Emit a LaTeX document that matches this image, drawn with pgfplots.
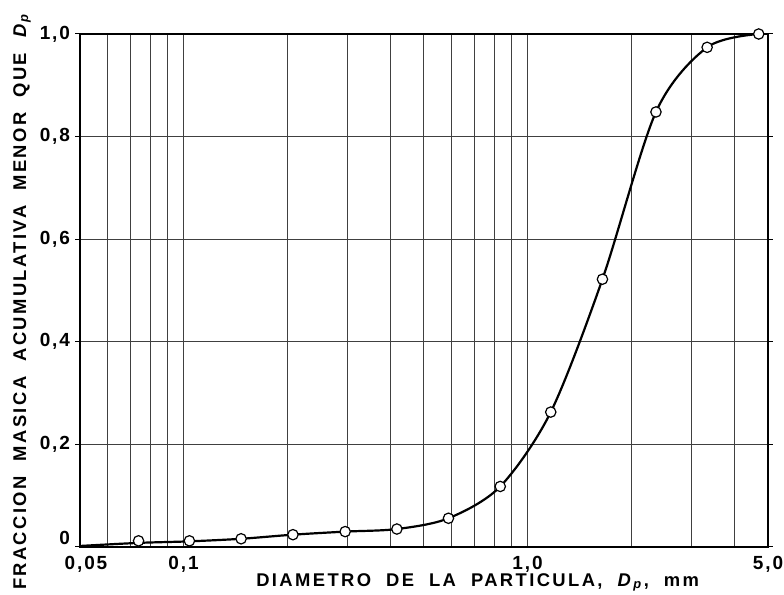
\documentclass[border=0pt]{standalone}
\usepackage{pgfplots}
\usepackage{pgfplotstable}
\pgfplotsset{compat=1.18}
\usepackage{fontspec}
\setmainfont{Liberation Sans}
\newfontfamily\ylblfont[LetterSpace=13,WordSpace=2]{Liberation Sans}
\newfontfamily\xlblfont[LetterSpace=13,WordSpace=2]{Liberation Sans}
\newfontfamily\tickfont[LetterSpace=10]{Liberation Sans}

\pgfplotstableread{
x y
0.074 0.012
0.104 0.012
0.147 0.016
0.208 0.024
0.295 0.030
0.417 0.035
0.589 0.056
0.833 0.118
1.168 0.263
1.651 0.522
2.362 0.848
3.327 0.974
4.699 1.000
}\sieve

\pgfplotstableread{
x y
0.050 0.002
0.074 0.008
0.104 0.011
0.147 0.016
0.208 0.024
0.295 0.030
0.417 0.035
0.589 0.056
0.833 0.118
1.168 0.263
1.651 0.522
2.362 0.848
3.327 0.974
4.699 1.000
}\curve

\begin{document}
\begin{tikzpicture}
\begin{axis}[
  scale only axis, width=344pt, height=256.5pt,
  xmode=log, xmin=0.05, xmax=5, ymin=0, ymax=1,
  xtick={0.05,0.1,1,5},
  xticklabels={{\hspace*{6pt}0,05},{0,1},{1,0},{5,0}},
  minor xtick={0.06,0.07,0.08,0.09,0.2,0.3,0.4,0.5,0.6,0.7,0.8,0.9,2,3,4},
  ytick={0,0.2,0.4,0.6,0.8,1},
  yticklabels={{\raisebox{9pt}{0}},{0,2},{0,4},{0,6},{0,8},{1,0}},
  grid=both,
  major grid style={black!75, line width=0.5pt},
  minor grid style={black!75, line width=0.5pt},
  axis line style={black, line width=0.7pt},
  tick align=outside, major tick length=2.5pt, minor tick length=0pt,
  xtick style={draw=none},
  ytick style={black, line width=0.5pt},
  ticklabel style={font=\tickfont\bfseries\fontsize{9.5}{11}\selectfont},
  xticklabel style={yshift=1.5pt},
  yticklabel style={xshift=1pt},
  xlabel={DIAMETRO DE LA PARTICULA, \textit{D}\textsubscript{\textit{p}}, mm},
  ylabel={FRACCION MASICA ACUMULATIVA MENOR QUE \textit{D}\textsubscript{\textit{p}}},
  xlabel style={font=\xlblfont\bfseries\fontsize{9.2}{11}\selectfont,
    at={(axis description cs:0.578,0)}, anchor=center, yshift=-17.5pt},
  ylabel style={font=\ylblfont\bfseries\fontsize{9.2}{11}\selectfont,
    at={(axis description cs:0,0.48)}, anchor=center, yshift=29pt},
]
\addplot[black, line width=1.1pt, smooth, tension=0.5] table[x=x,y=y] {\curve};
\addplot[only marks, mark=*, mark size=2.6pt,
  mark options={fill=white, draw=black, line width=0.6pt}] table[x=x,y=y] {\sieve};
\end{axis}
\pgfresetboundingbox
\path (-40pt,-24pt) rectangle (352pt,273.5pt);
\end{tikzpicture}
\end{document}
